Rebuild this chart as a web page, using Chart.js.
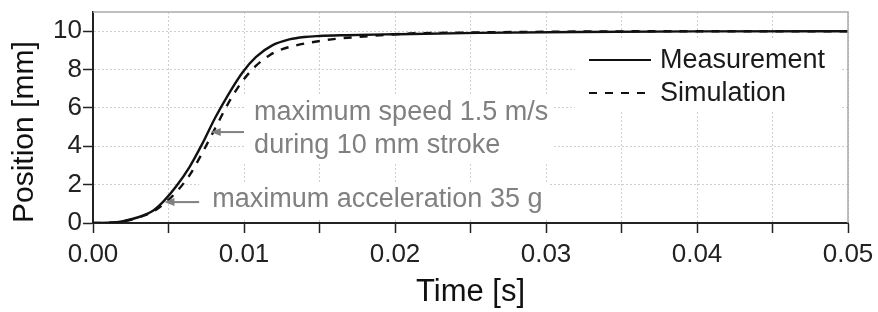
<!DOCTYPE html>
<html>
<head>
<meta charset="utf-8">
<script src="https://cdn.jsdelivr.net/npm/chart.js@4.4.0/dist/chart.umd.min.js"></script>
<style>
  body { margin: 0; background: #fff; }
  canvas { display: block; }
</style>
</head>
<body>
<canvas id="posChart" width="878" height="312"></canvas>
<script>
// values
const timeMeas = [0, 0.001, 0.002, 0.003, 0.0035, 0.004, 0.0047, 0.0055, 0.0064, 0.00725, 0.0081, 0.009, 0.0099, 0.0108, 0.0119, 0.013, 0.014, 0.015, 0.0167, 0.02, 0.0255, 0.032, 0.04, 0.05];
const posMeas  = [0, 0.01, 0.1, 0.3, 0.45, 0.65, 1.15, 1.9, 2.93, 4.15, 5.5, 6.75, 7.85, 8.66, 9.27, 9.57, 9.7, 9.75, 9.79, 9.84, 9.91, 9.96, 9.99, 10];

const timeSim = [0, 0.001, 0.002, 0.003, 0.004, 0.0047, 0.0055, 0.0064, 0.0072, 0.0081, 0.009, 0.0099, 0.0108, 0.0117, 0.0125, 0.0134, 0.0151, 0.0163, 0.0176, 0.02, 0.021, 0.025, 0.03, 0.04, 0.05];
const posSim  = [0, 0.01, 0.09, 0.28, 0.6, 1.0, 1.6, 2.5, 3.6, 4.95, 6.3, 7.4, 8.2, 8.75, 9.05, 9.25, 9.5, 9.62, 9.7, 9.84, 9.88, 9.93, 9.97, 10, 10];

const xMin = 0, xMax = 0.05, xStep = 0.005;
const yMin = 0, yMax = 11, yStep = 2;

const FONT = "'Liberation Sans', Arial, sans-serif";

function toPoints(xs, ys) {
    return xs.map((x, i) => ({ x: x, y: ys[i] }));
}

// grey notes with arrows pointing at the measured curve
const notes = [
    { lines: ['maximum speed 1.5 m/s', 'during 10 mm stroke'], at: [0.01067, 5.78], tip: [0.0078, 4.74], tail: [0.0100, 4.74] },
    { lines: ['maximum acceleration 35 g'], at: [0.0079, 1.2], tip: [0.00473, 1.09], tail: [0.00703, 1.09] }
];
const lineGap = 33;

const decor = {
    id: 'decor',
    beforeDatasetsDraw(chart) {
        const { ctx, scales: { x, y } } = chart;
        ctx.save();
        ctx.font = '27px ' + FONT;
        ctx.fillStyle = '#fff';
        notes.forEach(n => {
            const tx = x.getPixelForValue(n.at[0]);
            const ty = y.getPixelForValue(n.at[1]);
            const w = Math.max(...n.lines.map(l => ctx.measureText(l).width));
            const left = x.getPixelForValue(n.tail[0]);
            ctx.fillRect(left, ty - 17, tx - left + w + 6, lineGap * (n.lines.length - 1) + 36);
        });
        // legend background
        ctx.fillRect(575, 40, 265, 70);
        ctx.restore();
    },
    afterDatasetsDraw(chart) {
        const { ctx, chartArea: a, scales: { x, y } } = chart;
        ctx.save();

        // notes
        ctx.font = '27px ' + FONT;
        ctx.fillStyle = '#808080';
        ctx.strokeStyle = '#808080';
        ctx.textBaseline = 'middle';
        notes.forEach(n => {
            const tx = x.getPixelForValue(n.at[0]);
            const ty = y.getPixelForValue(n.at[1]);
            n.lines.forEach((l, i) => ctx.fillText(l, tx, ty + i * lineGap));
            const x0 = x.getPixelForValue(n.tail[0]);
            const x1 = x.getPixelForValue(n.tip[0]);
            const yy = y.getPixelForValue(n.tip[1]);
            ctx.lineWidth = 2;
            ctx.beginPath();
            ctx.moveTo(x0, yy);
            ctx.lineTo(x1 + 6, yy);
            ctx.stroke();
            ctx.beginPath();
            ctx.moveTo(x1, yy);
            ctx.lineTo(x1 + 10, yy - 4);
            ctx.lineTo(x1 + 10, yy + 4);
            ctx.closePath();
            ctx.fill();
        });

        // legend
        ctx.font = '27px ' + FONT;
        ctx.fillStyle = '#1a1a1a';
        chart.data.datasets.forEach((ds, i) => {
            const ly = 60 + i * 33;
            ctx.strokeStyle = ds.borderColor;
            ctx.lineWidth = 2;
            ctx.setLineDash(ds.borderDash || []);
            ctx.beginPath();
            ctx.moveTo(589, ly);
            ctx.lineTo(651, ly);
            ctx.stroke();
            ctx.setLineDash([]);
            ctx.fillText(ds.label, 660, ly + 1);
        });

        // top and right frame
        ctx.strokeStyle = '#aaaaaa';
        ctx.lineWidth = 1.5;
        ctx.beginPath();
        ctx.moveTo(a.left, a.top);
        ctx.lineTo(a.right, a.top);
        ctx.lineTo(a.right, a.bottom);
        ctx.stroke();
        ctx.restore();
    }
};

const ctx = document.getElementById('posChart').getContext('2d');
const posChart = new Chart(ctx, {
    type: 'line',
    data: {
        datasets: [{
            label: 'Measurement',
            data: toPoints(timeMeas, posMeas),
            borderColor: '#111',
            borderWidth: 2.4,
            pointRadius: 0,
            cubicInterpolationMode: 'monotone'
        }, {
            label: 'Simulation',
            data: toPoints(timeSim, posSim),
            borderColor: '#111',
            borderWidth: 2.4,
            borderDash: [8, 8],
            pointRadius: 0,
            cubicInterpolationMode: 'monotone'
        }]
    },
    options: {
        responsive: false,
        animation: false,
        devicePixelRatio: 1,
        layout: { padding: { top: 12, right: 30, left: 0, bottom: 0 } },
        plugins: { legend: { display: false }, tooltip: { enabled: false } },
        scales: {
            x: {
                type: 'linear',
                min: xMin, max: xMax,
                afterFit: s => { s.height = 89; s.paddingLeft = 0; s.paddingRight = 0; },
                ticks: {
                    stepSize: xStep,
                    autoSkip: false,
                    maxRotation: 0,
                    padding: 6,
                    color: '#222',
                    font: { family: FONT, size: 26 },
                    callback: v => (Math.round(v * 1000) % 10 === 0 ? v.toFixed(2) : '')
                },
                grid: { color: '#cfcfcf', lineWidth: 1, tickColor: '#222', tickLength: 10, tickWidth: 1.5, tickBorderDash: [] },
                border: { color: '#222', width: 2, dash: [2, 2] },
                title: { display: true, text: 'Time [s]', color: '#111', font: { family: FONT, size: 31 }, padding: { top: 0, bottom: 1 } }
            },
            y: {
                min: yMin, max: yMax,
                afterFit: s => { s.width = 93; s.paddingTop = 0; s.paddingBottom = 0; },
                afterBuildTicks: s => { s.ticks = s.ticks.filter(t => t.value % yStep === 0); },
                ticks: {
                    stepSize: yStep,
                    includeBounds: false,
                    padding: 1,
                    color: '#222',
                    font: { family: FONT, size: 26 }
                },
                grid: { color: '#cfcfcf', lineWidth: 1, tickColor: '#222', tickLength: 10, tickWidth: 1.5, tickBorderDash: [] },
                border: { color: '#222', width: 2, dash: [2, 2] },
                title: { display: true, text: 'Position [mm]', align: 'start', color: '#111', font: { family: FONT, size: 30 }, padding: { top: 7, bottom: 0 } }
            }
        }
    },
    plugins: [decor]
});
</script>
</body>
</html>
